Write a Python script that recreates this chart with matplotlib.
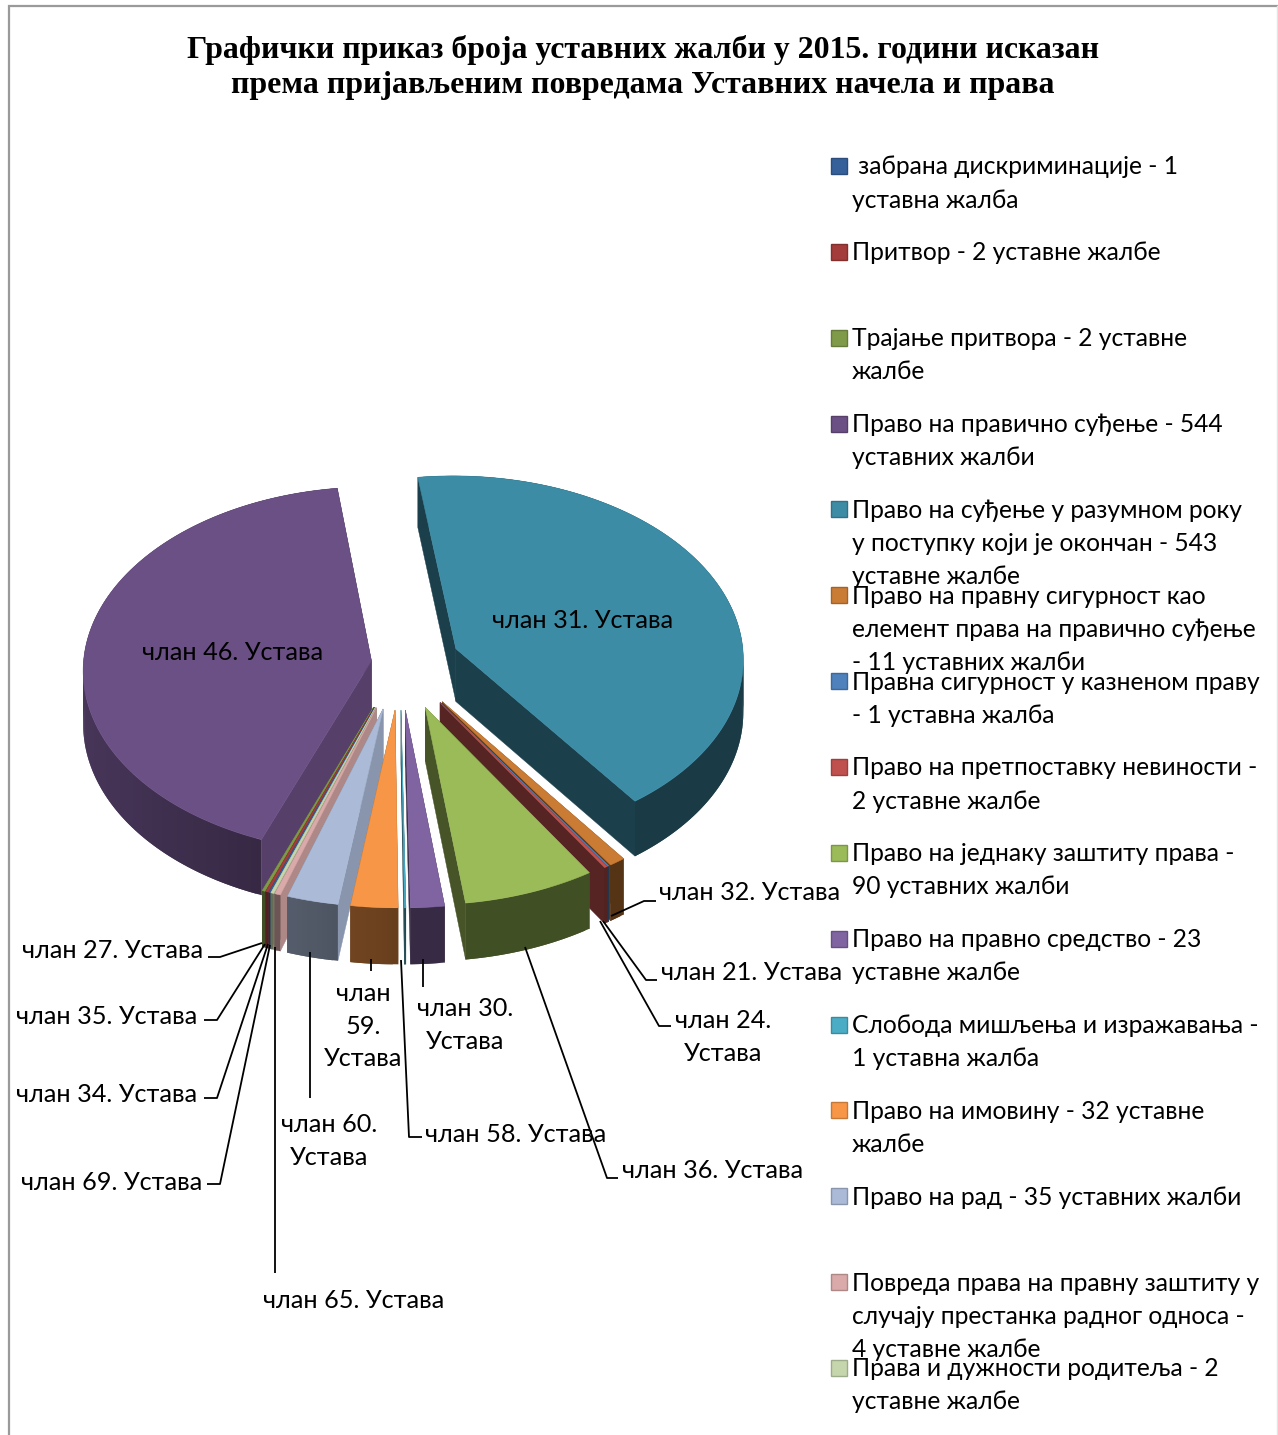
"""Exploded 3D-style pie of constitutional complaints in 2015."""

import numpy as np
import matplotlib

matplotlib.use("Agg")
import matplotlib.pyplot as plt
from matplotlib.colors import to_rgb
from matplotlib.patches import Polygon, Rectangle

title_lines = [
    "Графички приказ броја уставних жалби у 2015. години исказан",
    "према пријављеним повредама Уставних начела и права",
]
values = [1, 2, 2, 544, 543, 11, 1, 2, 90, 23, 1, 32, 35, 4, 2]
slice_labels = [
    "члан 34. Устава",
    "члан 35. Устава",
    "члан 27. Устава",
    "члан 46. Устава",
    "члан 31. Устава",
    "члан 32. Устава",
    "члан 21. Устава",
    "члан 24.\nУстава",
    "члан 36. Устава",
    "члан 30.\nУстава",
    "члан 58. Устава",
    "члан\n59.\nУстава",
    "члан 60.\nУстава",
    "члан 65. Устава",
    "члан 69. Устава",
]
legend_labels = [
    " забрана дискриминације - 1\nуставна жалба",
    "Притвор - 2 уставне жалбе",
    "Трајање притвора - 2 уставне\nжалбе",
    "Право на правично суђење - 544\nуставних жалби",
    "Право на суђење у разумном року\nу поступку који је окончан - 543\nуставне жалбе",
    "Право на правну сигурност као\nелемент права на правично суђење\n- 11 уставних жалби",
    "Правна сигурност у казненом праву\n- 1 уставна жалба",
    "Право на претпоставку невиности -\n2 уставне жалбе",
    "Право на једнаку заштиту права -\n90 уставних жалби",
    "Право на правно средство - 23\nуставне жалбе",
    "Слобода мишљења и изражавања -\n1 уставна жалба",
    "Право на имовину - 32 уставне\nжалбе",
    "Право на рад - 35 уставних жалби",
    "Повреда права на правну заштиту у\nслучају престанка радног односа -\n4 уставне жалбе",
    "Права и дужности родитеља - 2\nуставне жалбе",
]
colors = [
    "#35609A", "#A33C3A", "#7F9A48", "#6B5085", "#3D8CA6", "#CB7C34", "#4F81BD",
    "#C0504D", "#9BBB59", "#8064A2", "#4BACC6", "#F79646", "#AABAD7", "#D9AAA9",
    "#C6D6AC",
]
explode = [0.255, 0.255, 0.255, 0.10, 0.21, 0.255, 0.255, 0.255, 0.255, 0.255, 0.255,
           0.255, 0.255, 0.255, 0.255]

# pie placement, in pixels of the picture
CX, CY = 400, 663
R = 288
TILT = 0.635
PERSP = 0.05
DEPTH = 53
START = 250.3

plt.rcParams["font.family"] = ["Lato", "Noto Sans", "DejaVu Sans"]
LABEL_SIZE = 18.2
LEGEND_SIZE = 17.75


def project(u, v, drop=0.0):
    """Map points of the pie plane to picture pixels."""
    scale = 1.0 / (1.0 + PERSP * v / R)
    return CX + u * scale, CY - v * TILT * scale + drop * scale


def shaded(color, factor):
    return tuple(np.clip(np.array(to_rgb(color)) * factor, 0, 1))


def draw_slice(ax, value, color, offset, start):
    sweep = value / sum(values) * 360
    mid = np.radians(start - sweep / 2)
    ou, ov = offset * R * np.cos(mid), offset * R * np.sin(mid)
    angles = np.radians(np.linspace(start, start - sweep, max(3, int(sweep) + 2)))
    rim_u = ou + R * np.cos(angles)
    rim_v = ov + R * np.sin(angles)

    # the two cut faces, the clockwise one first so a lit face stays on top
    for k in (-1, 0):
        ang, u, v = angles[k], rim_u[k], rim_v[k]
        lit = k == 0 and np.cos(ang) < 0 and np.sin(ang) < 0
        face = shaded(color, 0.8 if lit else 0.45)
        pts = [project(ou, ov), project(u, v), project(u, v, DEPTH), project(ou, ov, DEPTH)]
        ax.add_patch(Polygon(pts, facecolor=face, edgecolor=face, lw=0.3))

    # outer wall in short strips so that the shade can change; each strip runs
    # under the next one, which hides the seams
    last = len(angles) - 1
    for i in range(last):
        ang = (angles[i] + angles[i + 1]) / 2
        face = shaded(color, 0.42 + 0.25 * max(0.0, -np.cos(ang)))
        j = min(i + 2, last)
        pts = [
            project(rim_u[i], rim_v[i]),
            project(rim_u[j], rim_v[j]),
            project(rim_u[j], rim_v[j], DEPTH),
            project(rim_u[i], rim_v[i], DEPTH),
        ]
        ax.add_patch(Polygon(pts, facecolor=face, edgecolor="none"))

    # top
    xs, ys = project(np.r_[ou, rim_u], np.r_[ov, rim_v])
    ax.add_patch(Polygon(np.c_[xs, ys], facecolor=color, edgecolor=color, lw=0.4))


fig = plt.figure(figsize=(12.78, 14.35), dpi=100)
ax = fig.add_axes([0, 0, 1, 1])
ax.set_xlim(0, 1278)
ax.set_ylim(1435, 0)
ax.axis("off")

# chart frame, open at the bottom
ax.plot([9, 9, 1278], [1435, 6, 6], color="#9a9a9a", lw=1.6, solid_joinstyle="miter")
ax.plot([1277, 1277], [6, 1435], color="#e4e4e4", lw=1.0)

for line, y in zip(title_lines, (50, 86)):
    ax.text(643, y, line, ha="center", va="center", fontsize=22.95, fontweight="bold",
            family=["Liberation Serif"], color="black")

starts = START - np.r_[0, np.cumsum(values)[:-1]] / sum(values) * 360
mids = starts - np.array(values) / sum(values) * 180
# back slices first
for i in np.argsort(-np.sin(np.radians(mids))):
    draw_slice(ax, values[i], colors[i], explode[i], starts[i])

# leader lines, slice order
leaders = {
    0: [(268, 944), (217, 1098), (204, 1098)],
    1: [(265, 944), (217, 1020), (204, 1020)],
    2: [(262, 943), (220, 957), (208, 957)],
    5: [(611, 916), (644, 901), (656, 901)],
    6: [(603, 921), (646, 980), (657, 980)],
    7: [(600, 921), (659, 1026), (671, 1026)],
    8: [(525, 947), (607, 1178), (618, 1178)],
    9: [(423, 959), (423, 987)],
    10: [(401, 960), (409, 1137), (422, 1137)],
    11: [(371, 959), (371, 971)],
    12: [(310, 952), (310, 1098)],
    13: [(275, 947), (275, 1273)],
    14: [(270, 945), (220, 1184), (207, 1184)],
}
for pts in leaders.values():
    xs, ys = zip(*pts)
    ax.plot(xs, ys, color="black", lw=1.3, solid_capstyle="butt")

label_pos = [
    (107, 1095), (107, 1016), (113, 951), (233, 653), (583, 620), (750, 893),
    (752, 972), (723, 1037), (713, 1171), (465, 1025), (516, 1135), (363, 1026),
    (329, 1141), (354, 1301), (112, 1183),
]
for text, (x, y) in zip(slice_labels, label_pos):
    ax.text(x, y, text, ha="center", va="center", fontsize=LABEL_SIZE, color="black",
            linespacing=1.5, zorder=5)

for i, (text, color) in enumerate(zip(legend_labels, colors)):
    y = 166 + 85.85 * i
    ax.add_patch(Rectangle((831, y - 8), 16, 16, facecolor=color,
                           edgecolor=shaded(color, 0.8), lw=1.0))
    ax.text(852, y - 10.5, text, ha="left", va="top", fontsize=LEGEND_SIZE, color="black",
            linespacing=1.53, zorder=5)

fig.savefig("out.png", dpi=100)
plt.close(fig)
